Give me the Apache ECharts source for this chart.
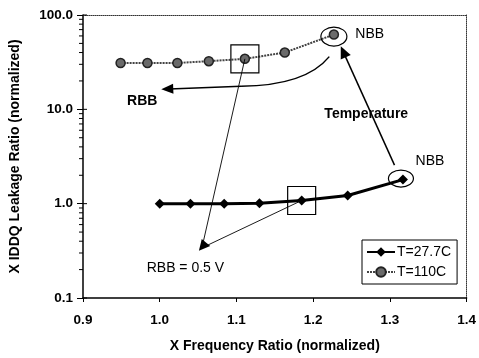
<!DOCTYPE html>
<html>
<head>
<meta charset="utf-8">
<script src="https://cdn.jsdelivr.net/npm/echarts@6/dist/echarts.min.js"></script>
<style>html,body{margin:0;padding:0;background:#fff}#main{width:479px;height:358px}</style>
</head>
<body>
<div id="main"></div>
<script>
var seriesNames = ['T=27.7C', 'T=110C'];
var freqCold = [1.0, 1.04, 1.084, 1.13, 1.185, 1.245, 1.317];
var leakCold = [1.0, 1.0, 1.0, 1.01, 1.08, 1.22, 1.8];
var freqHot = [0.949, 0.984, 1.023, 1.064, 1.111, 1.163, 1.227];
var leakHot = [31, 31, 31, 32.4, 34.3, 40, 62];

// callouts, in data units [freq, leakage]
var rbbMeet = [1.055, 0.34];
var rbbCurve = [[1.221, 36.2], [1.19, 17.8], [1.106, 17.6], [1.002, 16.3]];
var tempArrow = [[1.306, 2.56], [1.236, 46.5]];
var noteText = ['NBB', 'NBB', 'Temperature', 'RBB', 'RBB = 0.5 V'];
var notePos = [[1.255, 62], [1.3335, 2.8], [1.2146, 8.9], [0.9575, 12.2], [0.983, 0.206]];
var noteBold = [false, false, true, true, false];

var FONT = '"Liberation Sans", Arial, sans-serif';
var app = echarts.init(document.getElementById('main'));

function zip(a, b) { return a.map(function (v, i) { return [v, b[i]]; }); }

var option = {
    animation: false,
    textStyle: {fontFamily: FONT},
    grid: {left: 79, right: 9, top: 15, bottom: 57},
    legend: {
        orient: 'vertical',
        left: 362, top: 240,
        padding: [5, 6, 5, 4],
        itemGap: 6,
        itemWidth: 28, itemHeight: 12,
        borderColor: '#000', borderWidth: 1,
        textStyle: {fontSize: 14, color: '#000', fontFamily: FONT, padding: [0, 0, 0, -3]},
        data: seriesNames
    },
    xAxis: [{
        type: 'value', min: 0.9, max: 1.4, interval: 0.1,
        name: 'X Frequency Ratio (normalized)', nameLocation: 'middle', nameGap: 41,
        nameTextStyle: {fontSize: 14, fontWeight: 'bold', color: '#000'},
        axisLine: {lineStyle: {color: '#000', width: 1.5}},
        axisTick: {length: 4, lineStyle: {color: '#000'}},
        axisLabel: {fontSize: 13.5, fontWeight: 'bold', color: '#000', margin: 15,
            formatter: function (v) { return v.toFixed(1); }},
        splitLine: {show: false}
    }, {
        type: 'value', min: 0.9, max: 1.4, position: 'top',
        axisLine: {lineStyle: {color: '#333', type: 'dotted', width: 1}},
        axisTick: {show: false}, axisLabel: {show: false}, splitLine: {show: false}
    }],
    yAxis: [{
        type: 'log', logBase: 10, min: 0.1, max: 100,
        name: 'X IDDQ Leakage Ratio (normalized)', nameLocation: 'middle', nameGap: 61,
        nameTextStyle: {fontSize: 14, fontWeight: 'bold', color: '#000'},
        axisLine: {lineStyle: {color: '#000', width: 1.5}},
        axisTick: {length: 6, lineStyle: {color: '#000'}},
        axisLabel: {fontSize: 13.5, fontWeight: 'bold', color: '#000', margin: 10,
            formatter: function (v) { return (+v).toFixed(1); }},
        splitLine: {show: false}
    }, {
        type: 'log', logBase: 10, min: 0.1, max: 100, position: 'right',
        axisLine: {lineStyle: {color: '#333', type: 'dotted', width: 1}},
        axisTick: {show: false}, axisLabel: {show: false}, splitLine: {show: false}
    }],
    series: [{
        name: seriesNames[0],
        type: 'line',
        data: zip(freqCold, leakCold),
        symbol: 'diamond', symbolSize: 10,
        itemStyle: {color: '#000'},
        lineStyle: {color: '#000', width: 3}
    }, {
        name: seriesNames[1],
        type: 'line',
        data: zip(freqHot, leakHot),
        symbol: 'circle', symbolSize: 9,
        itemStyle: {color: '#6a6a6a', borderColor: '#222', borderWidth: 1.5},
        lineStyle: {color: '#444', width: 2, type: [2, 1]}
    }]
};

app.setOption(option);

// ---- annotations, placed through the axes ----
function px(p) { return app.convertToPixel({xAxisIndex: 0, yAxisIndex: 0}, p); }

function head(tip, from, len, wid) {
    var dx = tip[0] - from[0], dy = tip[1] - from[1], d = Math.sqrt(dx * dx + dy * dy);
    var ux = dx / d, uy = dy / d;
    var bx = tip[0] - ux * len, by = tip[1] - uy * len;
    return {type: 'polygon', shape: {points: [tip, [bx - uy * wid, by + ux * wid], [bx + uy * wid, by - ux * wid]]},
        style: {fill: '#000'}, z: 10};
}
function seg(a, b, w) {
    return {type: 'line', shape: {x1: a[0], y1: a[1], x2: b[0], y2: b[1]}, style: {stroke: '#000', lineWidth: w}, z: 10};
}

var g = [];
var hotBox = px([freqHot[4], leakHot[4]]);
var coldBox = px([freqCold[4], leakCold[4]]);
[hotBox, coldBox].forEach(function (c) {
    g.push({type: 'rect', shape: {x: c[0] - 14, y: c[1] - 14, width: 28, height: 28},
        style: {fill: 'none', stroke: '#000', lineWidth: 1.2}, z: 10});
});
var hotNbb = px([freqHot[6], leakHot[6]]);
var coldNbb = px([freqCold[6], leakCold[6]]);
g.push({type: 'ellipse', shape: {cx: hotNbb[0], cy: hotNbb[1] + 2, rx: 13, ry: 9.5},
    style: {fill: 'none', stroke: '#000', lineWidth: 1.2}, z: 10});
g.push({type: 'ellipse', shape: {cx: coldNbb[0] - 2, cy: coldNbb[1] - 1, rx: 12.5, ry: 8.5},
    style: {fill: 'none', stroke: '#000', lineWidth: 1.2}, z: 10});

// RBB = 0.5 V lines
var meet = px(rbbMeet);
g.push(seg(meet, hotBox, 0.9));
g.push(seg(meet, coldBox, 0.9));
var ax = (hotBox[0] - meet[0]) / Math.hypot(hotBox[0] - meet[0], hotBox[1] - meet[1]) +
         (coldBox[0] - meet[0]) / Math.hypot(coldBox[0] - meet[0], coldBox[1] - meet[1]);
var ay = (hotBox[1] - meet[1]) / Math.hypot(hotBox[0] - meet[0], hotBox[1] - meet[1]) +
         (coldBox[1] - meet[1]) / Math.hypot(coldBox[0] - meet[0], coldBox[1] - meet[1]);
g.push(head([meet[0] - 3, meet[1] + 3], [meet[0] + ax * 10, meet[1] + ay * 10], 11, 5.5));

// Temperature arrow
var t0 = px(tempArrow[0]), t1 = px(tempArrow[1]);
g.push(seg(t0, [t1[0] + (t0[0] - t1[0]) * 0.08, t1[1] + (t0[1] - t1[1]) * 0.08], 1.5));
g.push(head(t1, t0, 12, 5.5));

// RBB curved arrow
var c0 = px(rbbCurve[0]), c1 = px(rbbCurve[1]), c2 = px(rbbCurve[2]), c3 = px(rbbCurve[3]);
g.push({type: 'bezierCurve', shape: {x1: c0[0], y1: c0[1], cpx1: c1[0], cpy1: c1[1], x2: c2[0], y2: c2[1]},
    style: {stroke: '#000', lineWidth: 1.5, fill: 'none'}, z: 10});
g.push(seg(c2, [c3[0] + 8, c3[1] - 0.3], 1.5));
g.push(head(c3, c2, 12, 5));

// labels
noteText.forEach(function (t, i) {
    var p = px(notePos[i]);
    g.push({type: 'text', x: p[0], y: p[1], z: 11,
        style: {text: t, fill: '#000', font: (noteBold[i] ? 'bold ' : '') + '14px ' + FONT,
            align: 'left', verticalAlign: 'middle'}});
});

// minor log ticks on the left axis, plus the short inner stub of each major tick
var x0 = px([0.9, 1])[0];
[0.1, 1, 10].forEach(function (dec) {
    for (var k = 2; k <= 9; k++) {
        var y = px([0.9, dec * k])[1];
        g.push({type: 'line', shape: {x1: x0 - 4, y1: y, x2: x0, y2: y}, style: {stroke: '#000', lineWidth: 1}, z: 5});
    }
});
[0.1, 1, 10, 100].forEach(function (v) {
    var y = px([0.9, v])[1];
    g.push({type: 'line', shape: {x1: x0, y1: y, x2: x0 + 4, y2: y}, style: {stroke: '#000', lineWidth: 1}, z: 5});
});

app.setOption({graphic: g});
</script>
</body>
</html>
